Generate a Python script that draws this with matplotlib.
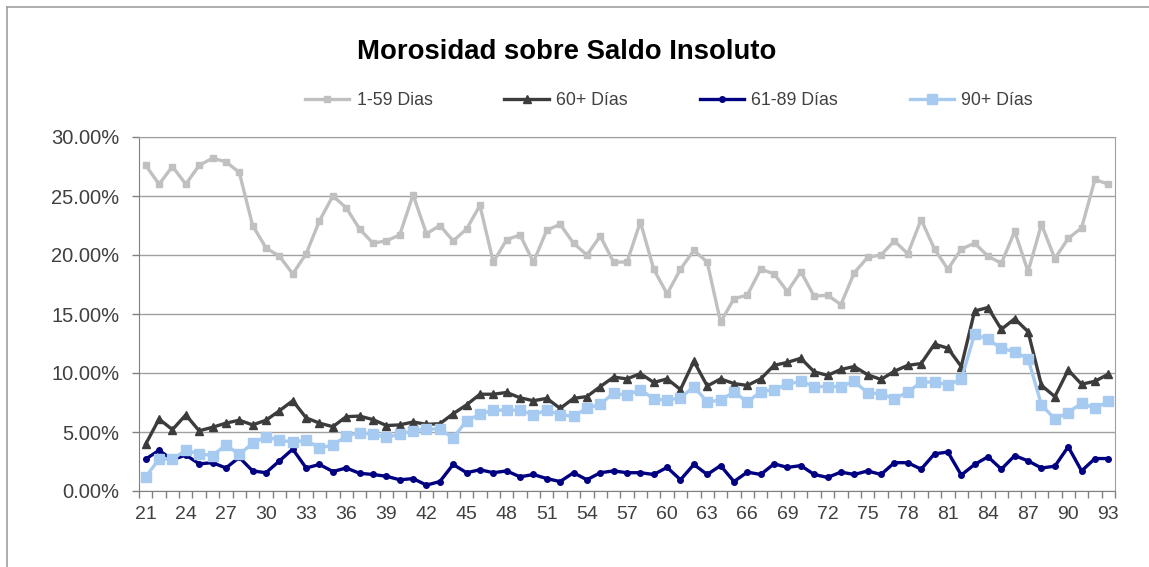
import matplotlib
matplotlib.use("Agg")
import matplotlib.pyplot as plt
from matplotlib.lines import Line2D
import numpy as np

plt.rcParams['font.family'] = ['Liberation Sans', 'DejaVu Sans']

# periods 21..93
periods = list(range(21, 94))

dias_1_59 = [27.6, 26.0, 27.5, 26.0, 27.6, 28.2, 27.9, 27.0, 22.5, 20.6,
             19.9, 18.4, 20.1, 22.9, 25.0, 24.0, 22.2, 21.0, 21.2, 21.7,
             25.1, 21.8, 22.5, 21.2, 22.2, 24.2, 19.4, 21.3, 21.7, 19.4,
             22.1, 22.6, 21.0, 20.0, 21.6, 19.4, 19.4, 22.8, 18.8, 16.7,
             18.8, 20.4, 19.4, 14.3, 16.3, 16.6, 18.8, 18.4, 16.9, 18.6,
             16.5, 16.6, 15.8, 18.5, 19.8, 20.0, 21.2, 20.1, 23.0, 20.5,
             18.8, 20.5, 21.0, 19.9, 19.3, 22.0, 18.6, 22.6, 19.7, 21.4,
             22.3, 26.4, 26.0]

dias_60_mas = [3.97, 6.1, 5.2, 6.45, 5.1, 5.4, 5.75, 6.0, 5.6, 6.0,
               6.8, 7.65, 6.2, 5.75, 5.45, 6.3, 6.35, 6.05, 5.55, 5.6,
               5.85, 5.65, 5.7, 6.55, 7.3, 8.2, 8.2, 8.35, 7.9, 7.65,
               7.85, 7.0, 7.85, 8.0, 8.85, 9.65, 9.5, 9.95, 9.2, 9.5,
               8.6, 11.0, 8.9, 9.5, 9.1, 8.95, 9.5, 10.65, 10.9, 11.25,
               10.1, 9.8, 10.3, 10.55, 9.85, 9.45, 10.15, 10.65, 10.8, 12.45,
               12.1, 10.55, 15.25, 15.55, 13.7, 14.6, 13.5, 8.95, 8.0, 10.25,
               9.05, 9.3, 9.9]

dias_61_89 = [2.7, 3.45, 2.65, 3.05, 2.3, 2.4, 1.95, 2.85, 1.7, 1.55,
              2.55, 3.55, 1.95, 2.25, 1.65, 1.95, 1.5, 1.4, 1.25, 0.95,
              1.05, 0.5, 0.8, 2.25, 1.55, 1.8, 1.55, 1.7, 1.2, 1.4,
              1.05, 0.8, 1.55, 0.95, 1.55, 1.7, 1.55, 1.55, 1.4, 2.0,
              0.95, 2.25, 1.4, 2.15, 0.8, 1.6, 1.4, 2.3, 2.0, 2.15,
              1.4, 1.15, 1.6, 1.4, 1.7, 1.4, 2.4, 2.4, 1.85, 3.15,
              3.3, 1.35, 2.25, 2.9, 1.85, 3.0, 2.55, 1.95, 2.1, 3.75,
              1.7, 2.75, 2.75]

dias_90_mas = [1.2, 2.7, 2.7, 3.45, 3.15, 3.0, 3.9, 3.1, 4.05, 4.6,
               4.3, 4.15, 4.3, 3.65, 3.9, 4.65, 4.95, 4.8, 4.55, 4.8,
               5.1, 5.25, 5.25, 4.5, 5.95, 6.5, 6.85, 6.85, 6.85, 6.45,
               6.85, 6.45, 6.35, 7.0, 7.35, 8.3, 8.1, 8.6, 7.8, 7.7,
               7.9, 8.85, 7.55, 7.7, 8.4, 7.55, 8.4, 8.6, 9.05, 9.3,
               8.85, 8.85, 8.85, 9.3, 8.3, 8.25, 7.8, 8.4, 9.2, 9.25,
               9.0, 9.45, 13.3, 12.85, 12.1, 11.8, 11.2, 7.3, 6.1, 6.65,
               7.45, 7.0, 7.6]

W, H = 1149, 567
fig = plt.figure(figsize=(W / 100, H / 100), dpi=100)
ax = fig.add_axes([139 / W, 1 - 491 / H, (1115 - 139) / W, (491 - 137) / H])

x = np.arange(len(periods))
ax.plot(x, dias_1_59, color='#C0C0C0', lw=2.4, marker='s', ms=4.6, label='1-59 Dias')
ax.plot(x, dias_60_mas, color='#3C3C3C', lw=2.4, marker='^', ms=5.5, label='60+ Días')
ax.plot(x, dias_61_89, color='#000080', lw=2.4, marker='o', ms=4, label='61-89 Días')
ax.plot(x, dias_90_mas, color='#A6CAF0', lw=2.4, marker='s', ms=7, label='90+ Días')

ax.set_xlim(-0.5, len(periods) - 0.5)
ax.set_ylim(0, 30)

# y axis
ax.set_yticks(np.arange(0, 31, 5))
ax.set_yticklabels([f'{v:.2f}%' for v in np.arange(0, 31, 5)])
ax.yaxis.grid(True, color='#A0A0A0', lw=1)
ax.set_axisbelow(True)

# x axis: ticks between categories, label every 3rd period
ax.set_xticks(np.arange(-0.5, len(periods), 1), minor=True)
lab_idx = x[::3]
ax.set_xticks(lab_idx)
ax.set_xticklabels([str(periods[i]) for i in lab_idx])
ax.tick_params(axis='x', which='major', length=0, pad=11, labelsize=14, labelcolor='#404040')
ax.tick_params(axis='x', which='minor', length=5, width=1, color='#808080')
ax.tick_params(axis='y', length=5, width=1, color='#808080', labelsize=14.5, labelcolor='#404040', pad=9)

for side in ['left', 'bottom']:
    ax.spines[side].set_color('#808080')
for side in ['top', 'right']:
    ax.spines[side].set_color('#A0A0A0')

fig.text(567 / W, 1 - 52 / H, 'Morosidad sobre Saldo Insoluto', ha='center', va='center',
         fontsize=19.8, fontweight='bold', color='black')

leg = fig.legend(loc='center left', bbox_to_anchor=(305 / W, 1 - 101 / H), ncol=4,
                 frameon=False, fontsize=12.8, handlelength=2.5, handletextpad=0.4,
                 columnspacing=4.05, borderpad=0, borderaxespad=0)
for t in leg.get_texts():
    t.set_color('#404040')

# outer chart border (cut off at right and bottom)
fig.add_artist(Line2D([6.5 / W, 6.5 / W], [0, 1 - 6.5 / H], color='#A0A0A0', lw=1.2))
fig.add_artist(Line2D([6.5 / W, 1], [1 - 6.5 / H, 1 - 6.5 / H], color='#A0A0A0', lw=1.2))

fig.savefig('out.png', dpi=100)
